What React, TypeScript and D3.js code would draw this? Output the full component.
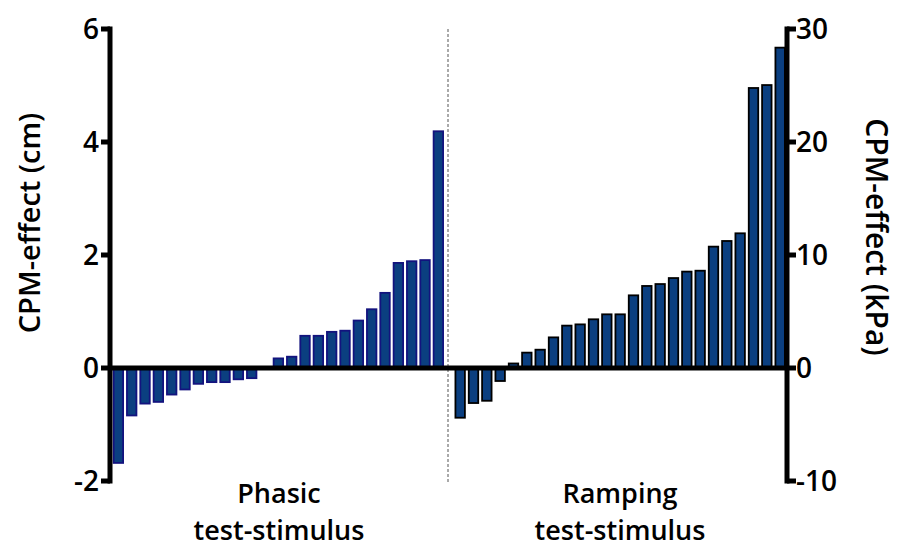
import React from "react";
import * as d3 from "d3";

const phasicValues = [
  -1.68, -0.84, -0.63, -0.6, -0.47, -0.38, -0.28, -0.25, -0.25, -0.2, -0.18,
  0, 0.17, 0.2, 0.57, 0.57, 0.64, 0.66, 0.84, 1.04, 1.33, 1.86, 1.89, 1.91, 4.19,
];
const rampingValues = [
  -4.4, -3.1, -2.9, -1.15, 0.4, 1.36, 1.62, 2.71, 3.75, 3.86, 4.31, 4.75, 4.75,
  6.43, 7.26, 7.43, 7.96, 8.53, 8.61, 10.74, 11.24, 11.92, 24.78, 25.04, 28.35,
];
const leftTicks = [-2, 0, 2, 4, 6];
const rightTicks = [-10, 0, 10, 20, 30];
const groupLabels = [
  ["Phasic", "test-stimulus"],
  ["Ramping", "test-stimulus"],
];
const leftTitle = "CPM-effect (cm)";
const rightTitle = "CPM-effect (kPa)";

const W = 899;
const H = 548;
const FONT = "'Open Sans', 'Noto Sans', sans-serif";
const FILL = "#0b3f80";

export default function App() {
  const yTop = 29;
  const yBot = 481;
  const yL = d3.scaleLinear().domain([-2, 6]).range([yBot, yTop]);
  const yR = d3.scaleLinear().domain([-10, 30]).range([yBot, yTop]);
  const axL = 110;
  const axR = 787;
  const step = 13.333;
  const xP = d3
    .scaleBand<number>()
    .domain(d3.range(phasicValues.length))
    .range([111.7, 111.7 + step * 25])
    .paddingInner(0.29)
    .paddingOuter(0.145);
  const xR = d3
    .scaleBand<number>()
    .domain(d3.range(rampingValues.length))
    .range([453.5, 453.5 + step * 25])
    .paddingInner(0.29)
    .paddingOuter(0.145);
  const y0 = yL(0);

  return (
    <svg width={W} height={H} style={{ position: "absolute", left: 0, top: 0 }}>
      <rect width={W} height={H} fill="#fff" />
      {/* divider */}
      <line x1={448} x2={448} y1={yTop} y2={yBot + 2} stroke="#555" strokeWidth={1} strokeDasharray="3,2" />
      {/* phasic bars */}
      {phasicValues.map((v, i) =>
        v === 0 ? null : (
          <rect
            key={"p" + i}
            x={xP(i)}
            width={xP.bandwidth()}
            y={Math.min(yL(v), y0)}
            height={Math.abs(yL(v) - y0)}
            fill={FILL}
            stroke="#13137e"
            strokeWidth={1.8}
          />
        )
      )}
      {rampingValues.map((v, i) => (
        <rect
          key={"r" + i}
          x={xR(i)}
          width={xR.bandwidth()}
          y={Math.min(yR(v), y0)}
          height={Math.abs(yR(v) - y0)}
          fill={FILL}
          stroke="#000"
          strokeWidth={1.8}
        />
      ))}
      {/* zero line */}
      <line x1={axL} x2={axR} y1={y0} y2={y0} stroke="#000" strokeWidth={5} />
      {/* left axis */}
      <line x1={axL} x2={axL} y1={yTop - 2.5} y2={yBot + 2.5} stroke="#000" strokeWidth={5} />
      {leftTicks.map((t) => (
        <g key={"lt" + t}>
          <line x1={axL - 9} x2={axL} y1={yL(t)} y2={yL(t)} stroke="#000" strokeWidth={5} />
          <text
            x={axL - 11}
            y={yL(t)}
            dy="0.36em"
            textAnchor="end"
            fontFamily={FONT}
            fontWeight={600}
            fontSize={28}
            fill="#000"
          >
            {t < 0 ? "-" + Math.abs(t) : t}
          </text>
        </g>
      ))}
      {/* right axis */}
      <line x1={axR} x2={axR} y1={yTop - 2.5} y2={yBot + 2.5} stroke="#000" strokeWidth={5} />
      {rightTicks.map((t) => (
        <g key={"rt" + t}>
          <line x1={axR} x2={axR + 9} y1={yR(t)} y2={yR(t)} stroke="#000" strokeWidth={5} />
          <text
            x={axR + 9}
            y={yR(t)}
            dy="0.36em"
            textAnchor="start"
            fontFamily={FONT}
            fontWeight={600}
            fontSize={28}
            fill="#000"
          >
            {t < 0 ? "-" + Math.abs(t) : t}
          </text>
        </g>
      ))}
      {/* axis titles */}
      <text
        transform={`translate(40,${223}) rotate(-90)`}
        textAnchor="middle"
        fontFamily={FONT}
        fontWeight={600}
        fontSize={29}
        fill="#000"
      >
        {leftTitle}
      </text>
      <text
        transform={`translate(866,${237}) rotate(90)`}
        textAnchor="middle"
        fontFamily={FONT}
        fontWeight={600}
        fontSize={30}
        fill="#000"
      >
        {rightTitle}
      </text>
      {/* group labels */}
      {groupLabels.map((lines, gi) =>
        lines.map((l, li) => (
          <text
            key={"g" + gi + "-" + li}
            x={gi === 0 ? 279 : 620}
            y={li === 0 ? 503 : 540}
            textAnchor="middle"
            fontFamily={FONT}
            fontWeight={600}
            fontSize={27}
            fill="#000"
          >
            {l}
          </text>
        ))
      )}
    </svg>
  );
}
